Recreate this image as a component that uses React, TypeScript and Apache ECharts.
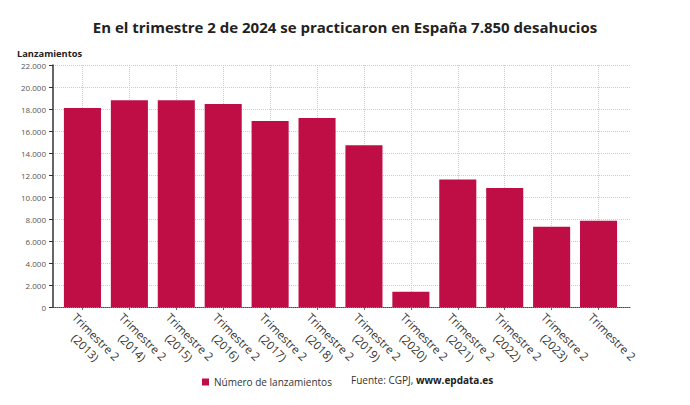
import React, { useEffect, useRef } from "react";
import * as echarts from "echarts";

const categories = [
  "Trimestre 2\n(2013)",
  "Trimestre 2\n(2014)",
  "Trimestre 2\n(2015)",
  "Trimestre 2\n(2016)",
  "Trimestre 2\n(2017)",
  "Trimestre 2\n(2018)",
  "Trimestre 2\n(2019)",
  "Trimestre 2\n(2020)",
  "Trimestre 2\n(2021)",
  "Trimestre 2\n(2022)",
  "Trimestre 2\n(2023)",
  "Trimestre 2",
];
const lanzamientos = [18100, 18800, 18800, 18450, 16900, 17180, 14700, 1390, 11600, 10820, 7290, 7850];
const seriesName = "Número de lanzamientos";
const title = "En el trimestre 2 de 2024 se practicaron en España 7.850 desahucios";
const yAxisName = "Lanzamientos";
const source = "Fuente: CGPJ, ";
const sourceLink = "www.epdata.es";
const yMin = 0;
const yMax = 22000;
const yStep = 2000;

const fmt = (v: number) => String(v).replace(/\B(?=(\d{3})+(?!\d))/g, ".");

export default function App() {
  const ref = useRef<HTMLDivElement>(null);
  useEffect(() => {
    const chart = echarts.init(ref.current!, null, { renderer: "svg" });
    const font = "'Open Sans', 'Noto Sans', sans-serif";
    chart.setOption({
      animation: false,
      textStyle: { fontFamily: font },
      title: {
        text: title,
        left: "center",
        top: 14,
        textStyle: { fontSize: 15, fontWeight: "bold", color: "#222", fontFamily: font },
      },
      grid: [
        { left: 53, right: 60, top: 65, bottom: 98, containLabel: false },
        { left: 59, right: 68, top: 65, bottom: 98, containLabel: false },
      ],
      legend: {
        left: 197,
        top: 372,
        itemWidth: 7,
        itemHeight: 7,
        icon: "rect",
        textStyle: { fontSize: 10, color: "#333", fontFamily: font },
        data: [seriesName],
      },
      graphic: [
        {
          type: "text",
          left: 17,
          top: 49,
          style: { text: yAxisName, font: `bold 9.3px ${font}`, fill: "#222" },
        },
        {
          type: "text",
          left: 351,
          top: 375,
          style: {
            text: `{n|${source}}{b|${sourceLink}}`,
            rich: {
              n: { fontSize: 10, fontFamily: font, fill: "#333", color: "#333" },
              b: { fontSize: 10, fontFamily: font, fontWeight: "bold", fill: "#222", color: "#222" },
            },
          },
        },
      ],
      xAxis: [
        {
          type: "category",
          gridIndex: 0,
          data: categories,
          axisLine: { show: true, lineStyle: { color: "#444", type: "dotted", width: 1 } },
          axisTick: { show: false },
          axisLabel: { show: false },
          splitLine: { show: false },
        },
        {
          type: "category",
          gridIndex: 1,
          data: categories,
          axisLine: { show: false },
          axisTick: { show: true, alignWithLabel: true, length: 3, lineStyle: { color: "#666" } },
          splitLine: { show: true, alignWithLabel: true, lineStyle: { color: "#ccc", type: "dotted" } },
          axisLabel: {
            rotate: -45,
            interval: 0,
            margin: 0,
            verticalAlign: "top",
            padding: [4, 0, 0, 0],
            fontSize: 11.5,
            color: "#333",
            fontFamily: font,
            formatter: (v: string) => v.split("\n").map((l) => `{a|${l}}`).join("\n"),
            rich: { a: { align: "center", fontSize: 11.5, color: "#333", fontFamily: font, lineHeight: 15 } },
          },
        },
      ],
      yAxis: [
        {
          type: "value",
          gridIndex: 0,
          min: yMin,
          max: yMax,
          interval: yStep,
          axisLine: { show: true, lineStyle: { color: "#333", width: 1.5 } },
          axisTick: { show: true, length: 4, lineStyle: { color: "#333" } },
          splitLine: { show: true, lineStyle: { color: "#ccc", type: "dotted" } },
          axisLabel: { fontSize: 8, color: "#555", margin: 7, formatter: (v: number) => fmt(v), fontFamily: font },
        },
        {
          type: "value",
          gridIndex: 1,
          min: yMin,
          max: yMax,
          interval: yStep,
          show: false,
          splitLine: { show: false },
        },
      ],
      series: [
        {
          name: seriesName,
          type: "bar",
          xAxisIndex: 1,
          yAxisIndex: 1,
          data: lanzamientos,
          barCategoryGap: "21%",
          itemStyle: { color: "#bf0e46" },
        },
      ],
    });
    return () => chart.dispose();
  }, []);
  return <div ref={ref} style={{ width: 690, height: 405, position: "absolute", left: 0, top: 0 }} />;
}
